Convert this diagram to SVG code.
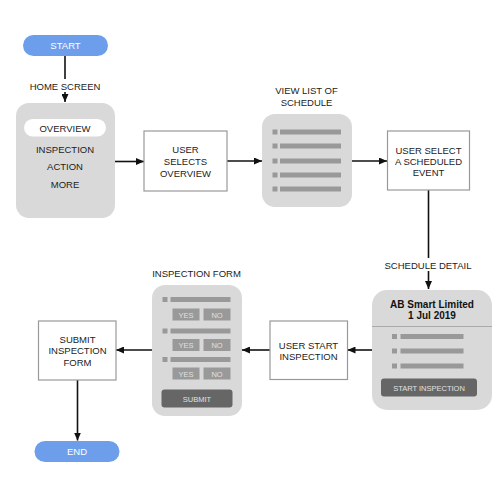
<svg xmlns="http://www.w3.org/2000/svg" width="500" height="495" viewBox="0 0 500 495">
<style>
text{font-family:"Liberation Sans",Arial,sans-serif;font-size:9.5px;fill:#222;text-anchor:middle}
.pill{fill:#6d9eeb}
.pt{fill:#fff;font-size:9.5px}
.card{fill:#d9d9d9}
.box{fill:#fff;stroke:#999;stroke-width:1.2}
.bar{fill:#999}
.btn{fill:#666}
.sb{fill:#999}
.bt{fill:#e0e0e0;font-size:7.5px}
.conn{fill:none;stroke:#111;stroke-width:1.6}
.lblbg{fill:#fff}
</style>
<defs>
<marker id="ah" markerWidth="8" markerHeight="7" refX="8" refY="3.5" orient="auto" markerUnits="userSpaceOnUse">
<path d="M0,0 L8,3.5 L0,7 Z" fill="#111"/>
</marker>
</defs>

<g id="connectors">
<path class="conn" d="M65,56 V102" marker-end="url(#ah)"/>
<path class="conn" d="M115,161.5 H144" marker-end="url(#ah)"/>
<path class="conn" d="M227,161 H262" marker-end="url(#ah)"/>
<path class="conn" d="M352,161 H387" marker-end="url(#ah)"/>
<path class="conn" d="M428.5,190 V289" marker-end="url(#ah)"/>
<path class="conn" d="M372,350 H347.5" marker-end="url(#ah)"/>
<path class="conn" d="M270,350 H242" marker-end="url(#ah)"/>
<path class="conn" d="M152,350 H116" marker-end="url(#ah)"/>
<path class="conn" d="M77.5,380 V440.5" marker-end="url(#ah)"/>
<rect class="lblbg" x="26" y="79" width="78" height="13"/>
<text x="65" y="89.5">HOME SCREEN</text>
<rect class="lblbg" x="382" y="258" width="92" height="13"/>
<text x="428" y="268.5">SCHEDULE DETAIL</text>
</g>

<g id="start">
<rect class="pill" x="23" y="35" width="85" height="21" rx="10.5"/>
<text class="pt" x="65.5" y="49">START</text>
</g>

<g id="home">
<rect class="card" x="16" y="103" width="99" height="115" rx="13"/>
<rect x="24" y="119" width="82" height="17.5" rx="8.75" fill="#fff"/>
<text x="65" y="131.5">OVERVIEW</text>
<text x="65" y="152.5">INSPECTION</text>
<text x="65" y="170">ACTION</text>
<text x="65" y="187.5">MORE</text>
</g>

<g id="user-selects">
<rect class="box" x="144" y="131" width="83" height="60"/>
<text x="185.5" y="152.5">USER</text>
<text x="185.5" y="164.5">SELECTS</text>
<text x="185.5" y="176.5">OVERVIEW</text>
</g>

<g id="schedule-list">
<text x="306.5" y="94">VIEW LIST OF</text>
<text x="306.5" y="106">SCHEDULE</text>
<rect class="card" x="262" y="114" width="90" height="93" rx="13"/>
<rect class="bar" x="272.5" y="129.5" width="5" height="5"/><rect class="bar" x="280" y="129.5" width="61" height="5"/>
<rect class="bar" x="272.5" y="143.5" width="5" height="5"/><rect class="bar" x="280" y="143.5" width="61" height="5"/>
<rect class="bar" x="272.5" y="158.5" width="5" height="5"/><rect class="bar" x="280" y="158.5" width="61" height="5"/>
<rect class="bar" x="272.5" y="172.5" width="5" height="5"/><rect class="bar" x="280" y="172.5" width="61" height="5"/>
<rect class="bar" x="272.5" y="186.5" width="5" height="5"/><rect class="bar" x="280" y="186.5" width="61" height="5"/>
</g>

<g id="user-select-event">
<rect class="box" x="387.5" y="131" width="82" height="59"/>
<text x="428.5" y="153.5">USER SELECT</text>
<text x="428.5" y="164.5">A SCHEDULED</text>
<text x="428.5" y="175.5">EVENT</text>
</g>

<g id="schedule-detail">
<rect class="card" x="372" y="290" width="120" height="120" rx="15"/>
<line x1="372" y1="326.5" x2="492" y2="326.5" stroke="#aaa" stroke-width="1"/>
<text x="432" y="307.5" style="font-weight:bold;font-size:10px;fill:#111">AB Smart Limited</text>
<text x="432" y="319" style="font-weight:bold;font-size:10px;fill:#111">1 Jul 2019</text>
<rect class="bar" x="392" y="334" width="5" height="5"/><rect class="bar" x="400.5" y="334" width="63" height="5"/>
<rect class="bar" x="392" y="348.5" width="5" height="5"/><rect class="bar" x="400.5" y="348.5" width="63" height="5"/>
<rect class="bar" x="392" y="363.5" width="5" height="5"/><rect class="bar" x="400.5" y="363.5" width="63" height="5"/>
<rect class="btn" x="381" y="378.5" width="96" height="18" rx="3"/>
<text class="bt" x="429" y="390.5">START INSPECTION</text>
</g>

<g id="user-start-inspection">
<rect class="box" x="270" y="321" width="77.5" height="58.5"/>
<text x="308.5" y="348.5">USER START</text>
<text x="308.5" y="360">INSPECTION</text>
</g>

<g id="inspection-form">
<text x="196.5" y="276.5">INSPECTION FORM</text>
<rect class="card" x="152" y="285" width="90" height="131" rx="13"/>
<rect class="bar" x="162.5" y="297" width="5" height="5"/><rect class="bar" x="170.5" y="297" width="60" height="5"/>
<rect class="sb" x="172.5" y="308.5" width="27" height="12"/><text class="bt" x="186" y="317.5">YES</text>
<rect class="sb" x="203.5" y="308.5" width="27" height="12"/><text class="bt" x="217" y="317.5">NO</text>
<rect class="bar" x="162.5" y="328.5" width="5" height="5"/><rect class="bar" x="170.5" y="328.5" width="60" height="5"/>
<rect class="sb" x="172.5" y="339" width="27" height="12"/><text class="bt" x="186" y="348">YES</text>
<rect class="sb" x="203.5" y="339" width="27" height="12"/><text class="bt" x="217" y="348">NO</text>
<rect class="bar" x="162.5" y="357" width="5" height="5"/><rect class="bar" x="170.5" y="357" width="60" height="5"/>
<rect class="sb" x="172.5" y="367.5" width="27" height="12"/><text class="bt" x="186" y="376.5">YES</text>
<rect class="sb" x="203.5" y="367.5" width="27" height="12"/><text class="bt" x="217" y="376.5">NO</text>
<rect class="btn" x="161.5" y="389.5" width="71" height="18" rx="3"/>
<text class="bt" x="197" y="401.5">SUBMIT</text>
</g>

<g id="submit-form">
<rect class="box" x="38.5" y="321" width="77.5" height="59"/>
<text x="77.5" y="342.5">SUBMIT</text>
<text x="77.5" y="354">INSPECTION</text>
<text x="77.5" y="365.5">FORM</text>
</g>

<g id="end">
<rect class="pill" x="34.5" y="441" width="85" height="21" rx="10.5"/>
<text class="pt" x="77" y="455">END</text>
</g>
</svg>
